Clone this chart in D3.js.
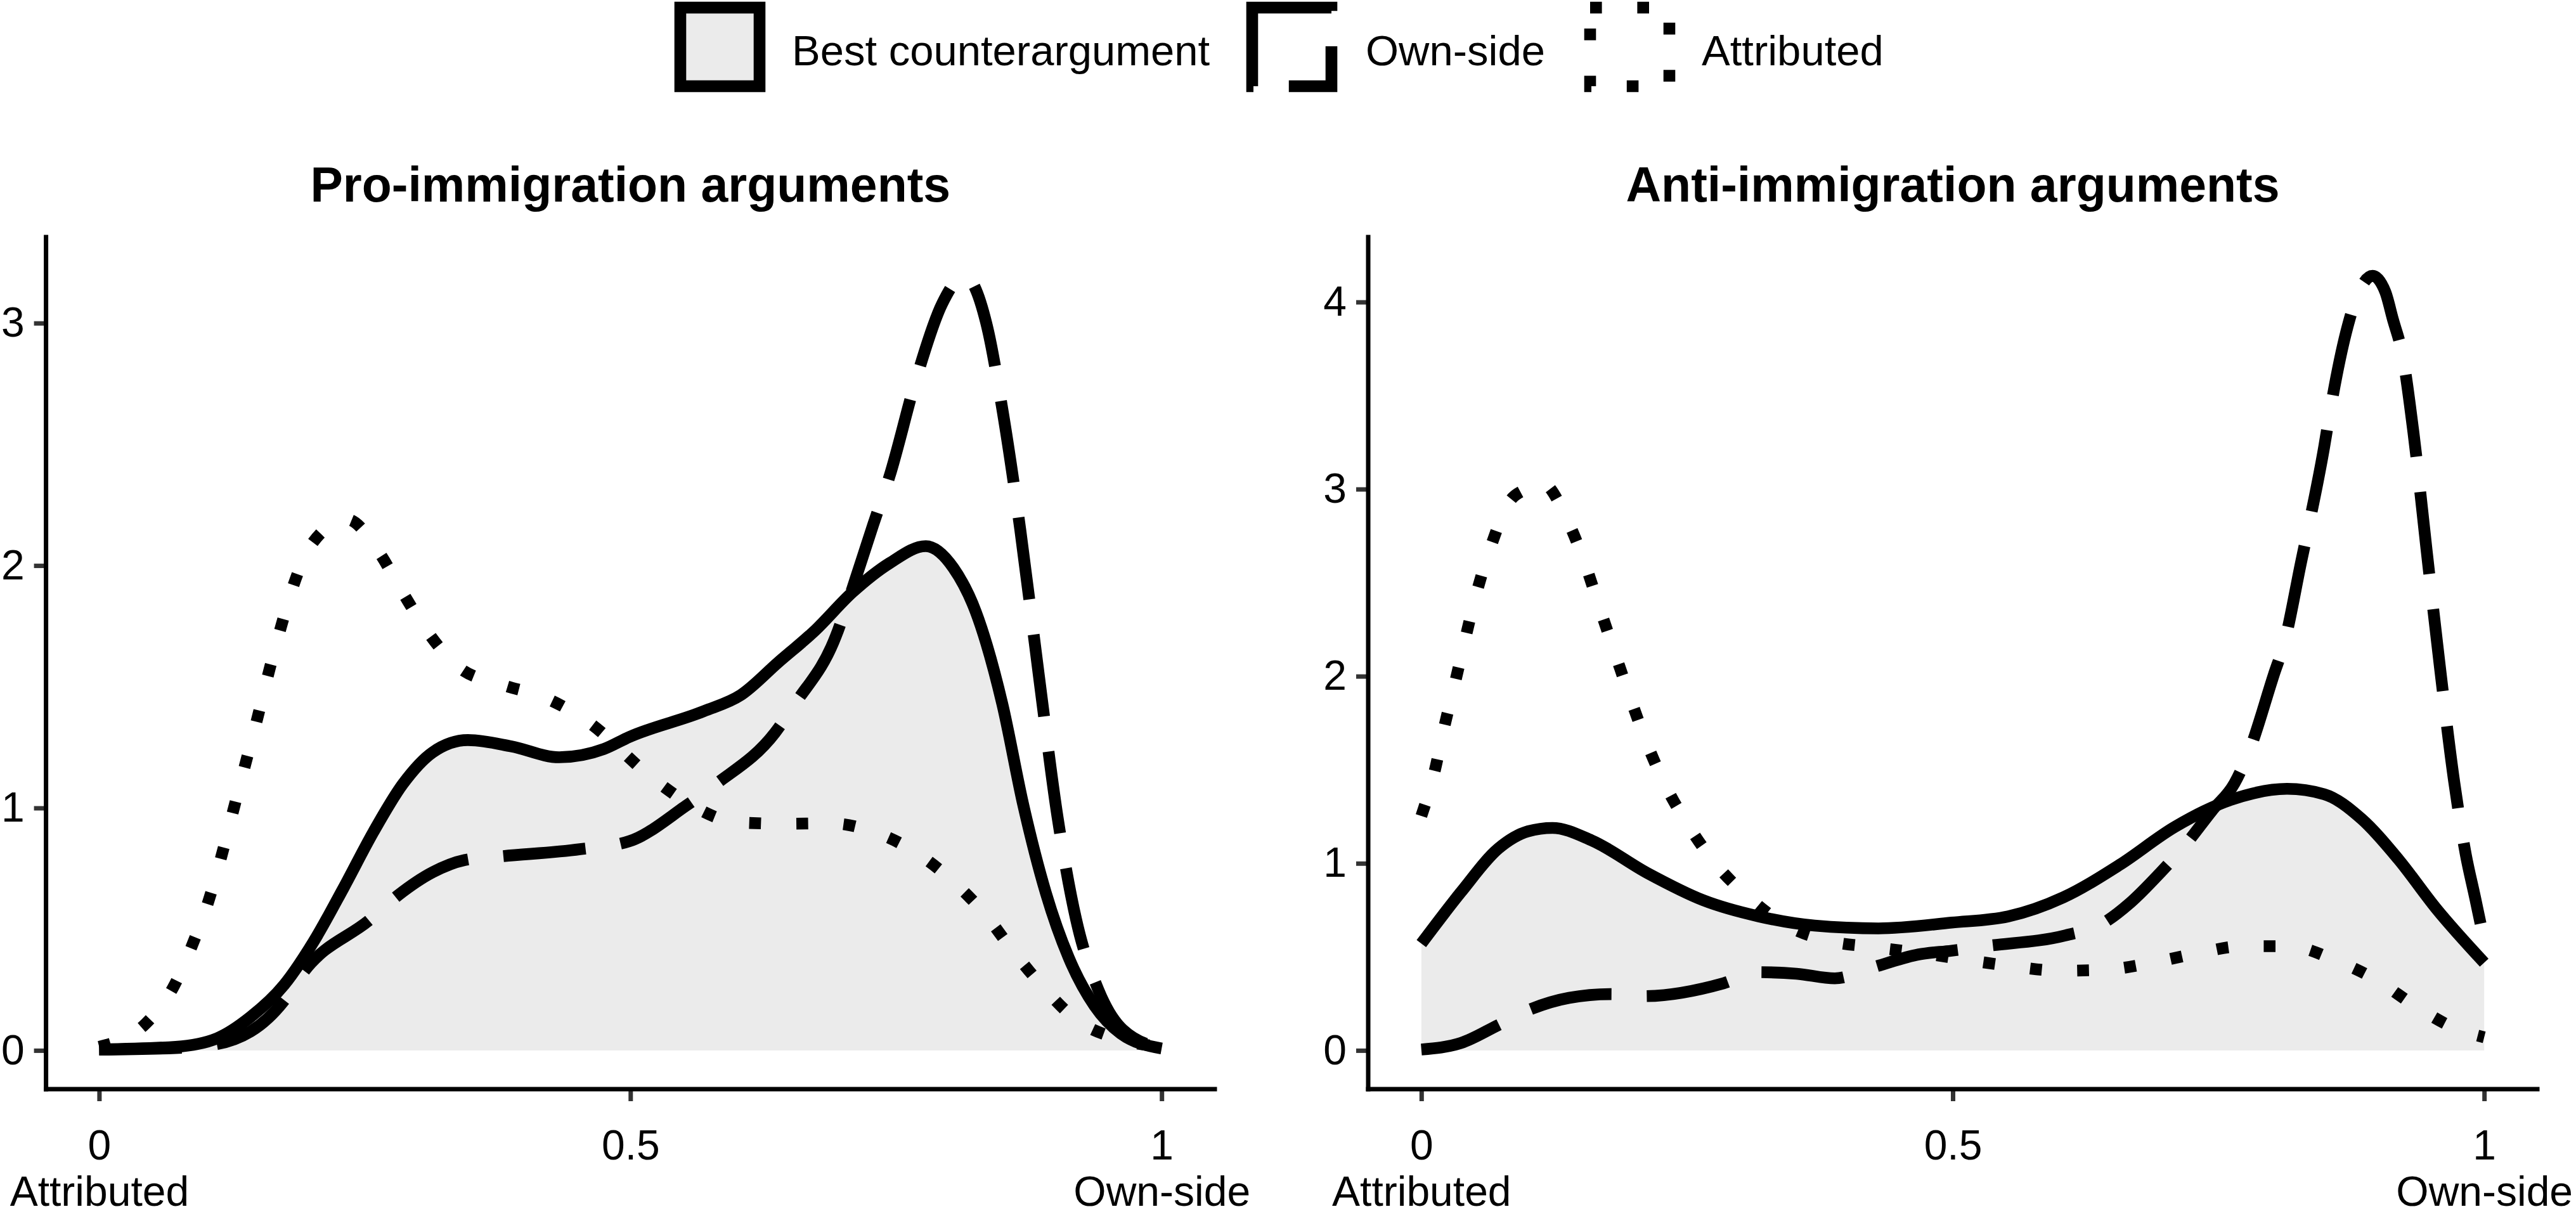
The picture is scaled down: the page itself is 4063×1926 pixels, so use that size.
<!DOCTYPE html>
<html>
<head>
<meta charset="utf-8" />
<title>Argument densities</title>
<style>
html, body {
  margin: 0;
  padding: 0;
  background: #ffffff;
}
svg text {
  font-family: "Liberation Sans", Arial, Helvetica, sans-serif;
}
</style>
</head>
<body>
<script src="https://d3js.org/d3.v7.min.js"></script>
<script>

// ---------------------------------------------------------
// Data, x = position 0..1, y = density

const seriesNames = ["Best counterargument", "Own-side", "Attributed"]
const panelTitles = ["Pro-immigration arguments", "Anti-immigration arguments"]

const xTicks = [0, 0.5, 1]
const xTickLabels = ["0", "0.5", "1"]
const xEndLabels = ["Attributed", "", "Own-side"]
const proYTicks = [0, 1, 2, 3]
const antiYTicks = [0, 1, 2, 3, 4]

const proBest = [[0,0.004],[0.072,0.015],[0.111,0.05],[0.1425,0.138],[0.174,0.27],[0.202,0.45],[0.23,0.67],
  [0.258,0.9],[0.286,1.10],[0.314,1.23],[0.347,1.28],[0.388,1.254],[0.433,1.209],[0.475,1.243],[0.499,1.293],
  [0.569,1.399],[0.604,1.466],[0.639,1.60],[0.674,1.733],[0.709,1.89],[0.744,2.01],[0.778,2.08],[0.804,1.99],
  [0.825,1.81],[0.85,1.43],[0.87,1.008],[0.891,0.65],[0.9125,0.383],[0.937,0.183],[0.9615,0.07],[1.0,0.008]]

const proOwn = [[0,0.003],[0.072,0.01],[0.111,0.026],[0.174,0.205],[0.193,0.327],[0.2547,0.539],[0.2814,0.64],
  [0.314,0.735],[0.344,0.785],[0.377,0.80],[0.4526,0.83],[0.499,0.863],[0.552,1.008],[0.58,1.097],[0.636,1.31],
  [0.655,1.43],[0.6935,1.71],[0.706,1.867],[0.7286,2.17],[0.744,2.37],[0.769,2.77],[0.7934,3.08],[0.8145,3.195],
  [0.8355,2.99],[0.8495,2.66],[0.867,2.146],[0.8845,1.544],[0.902,0.963],[0.9195,0.54],[0.9405,0.249],
  [0.9615,0.094],[1.0,0.008]]

const proAttr = [[0,0.015],[0.0437,0.11],[0.0697,0.26],[0.088,0.439],[0.103,0.617],[0.115,0.80],[0.126,0.986],
  [0.137,1.171],[0.148,1.354],[0.1587,1.544],[0.17,1.729],[0.182,1.907],[0.1996,2.086],[0.2336,2.19],[0.263,2.057],
  [0.2855,1.89],[0.309,1.727],[0.338,1.582],[0.378,1.51],[0.42,1.454],[0.457,1.365],[0.5236,1.113],[0.5587,1.008],
  [0.60,0.941],[0.644,0.935],[0.6876,0.937],[0.73,0.90],[0.7696,0.814],[0.804,0.696],[0.8337,0.562],[0.861,0.405],
  [0.8887,0.26],[0.9195,0.127],[0.958,0.049],[1.0,0.015]]

const antiBest = [[0,0.571],[0.0374,0.847],[0.0725,1.079],[0.1005,1.171],[0.1233,1.189],[0.16,1.123],[0.2126,0.948],
  [0.265,0.803],[0.3177,0.716],[0.37,0.667],[0.43,0.652],[0.499,0.683],[0.552,0.716],[0.604,0.818],[0.657,0.992],
  [0.709,1.195],[0.762,1.34],[0.8145,1.398],[0.8495,1.369],[0.8845,1.238],[0.9195,1.02],[0.9546,0.76],[1.0,0.469]]

const antiOwn = [[0,0.005],[0.0374,0.04],[0.0725,0.136],[0.104,0.223],[0.139,0.281],[0.1776,0.301],[0.209,0.29],
  [0.2844,0.359],[0.316,0.418],[0.353,0.41],[0.389,0.385],[0.426,0.446],[0.468,0.513],[0.499,0.533],[0.5306,0.557],
  [0.606,0.615],[0.639,0.672],[0.667,0.789],[0.695,0.948],[0.718,1.093],[0.744,1.282],[0.765,1.427],[0.779,1.601],
  [0.802,2.007],[0.812,2.18],[0.828,2.617],[0.835,2.806],[0.8495,3.227],[0.8547,3.406],[0.87,3.836],[0.881,4.039],
  [0.895,4.14],[0.907,4.054],[0.914,3.91],[0.923,3.72],[0.9335,3.30],[0.9458,2.675],[0.958,2.066],[0.972,1.427],
  [0.9826,1.05],[0.9914,0.818],[1.0,0.585]]

const antiAttr = [[0,1.253],[0.0122,1.485],[0.0217,1.732],[0.032,1.973],[0.042,2.217],[0.0525,2.457],[0.0655,2.695],
  [0.0823,2.928],[0.098,3.0],[0.112,3.04],[0.139,2.814],[0.1548,2.588],[0.1688,2.347],[0.183,2.109],[0.197,1.877],
  [0.2126,1.636],[0.23,1.413],[0.251,1.204],[0.2767,0.998],[0.307,0.823],[0.344,0.667],[0.3836,0.585],[0.427,0.551],
  [0.472,0.519],[0.513,0.484],[0.557,0.449],[0.60,0.426],[0.6445,0.432],[0.6876,0.469],[0.73,0.519],[0.773,0.557],
  [0.817,0.557],[0.859,0.484],[0.8985,0.377],[0.935,0.238],[0.974,0.115],[1.0,0.07]]

// ---------------------------------------------------------
// Layout and styles

const W = 4063
const H = 1926
const lw = 18.6
const dashes = ["none", [7 * lw, 3 * lw].join(" "), [lw, 3 * lw].join(" ")]
const fillGrey = "#ebebeb"

const panelTop = 374
const panelBottom = 1718
const panels = [
  { title: panelTitles[0], left: 72.6, right: 1916, yTicks: proYTicks, series: [proBest, proOwn, proAttr] },
  { title: panelTitles[1], left: 2158, right: 4002, yTicks: antiYTicks, series: [antiBest, antiOwn, antiAttr] }
]

const svg = d3.select('body').append('svg')
  .attr('width', W)
  .attr('height', H)
  .attr('viewBox', `0 0 ${W} ${H}`)

// ---------------------------------------------------------
// Legend

const legendKeys = [1073, 1975, 2508]
const legendText = [1249, 2154, 2684]

seriesNames.forEach((name, i) => {
  svg.append('rect')
    .attr('x', legendKeys[i])
    .attr('y', 12)
    .attr('width', 125)
    .attr('height', 124)
    .attr('fill', i === 0 ? fillGrey : 'none')
    .attr('stroke', '#000')
    .attr('stroke-width', lw)
    .attr('stroke-dasharray', dashes[i])
  svg.append('text')
    .attr('x', legendText[i])
    .attr('y', 103)
    .attr('font-size', 67)
    .attr('fill', '#000')
    .text(name)
})

// ---------------------------------------------------------
// Panels

panels.forEach(p => {
  const g = svg.append('g')

  const yMax = d3.max(p.series.flat(), d => d[1])
  const pad = yMax * 0.05

  const x = d3.scaleLinear().domain([-0.05, 1.05]).range([p.left, p.right])
  const y = d3.scaleLinear().domain([-pad, yMax + pad]).range([panelBottom, panelTop])

  const area = d3.area()
    .x(d => x(d[0]))
    .y0(y(0))
    .y1(d => y(d[1]))
    .curve(d3.curveMonotoneX)

  const line = d3.line()
    .x(d => x(d[0]))
    .y(d => y(d[1]))
    .curve(d3.curveMonotoneX)

  // grey fill only under the best counterargument
  g.append('path')
    .datum(p.series[0])
    .attr('d', area)
    .attr('fill', fillGrey)

  p.series.forEach((s, i) => {
    g.append('path')
      .datum(s)
      .attr('d', line)
      .attr('fill', 'none')
      .attr('stroke', '#000')
      .attr('stroke-width', lw)
      .attr('stroke-linecap', 'butt')
      .attr('stroke-linejoin', 'round')
      .attr('stroke-dasharray', dashes[i])
  })

  // axes
  const xAxis = g.append('g')
    .attr('transform', `translate(0,${panelBottom})`)
    .call(d3.axisBottom(x).tickValues(xTicks).tickSize(19).tickPadding(45)
      .tickFormat((d, i) => xTickLabels[i]))
  const yAxis = g.append('g')
    .attr('transform', `translate(${p.left},0)`)
    .call(d3.axisLeft(y).tickValues(p.yTicks).tickSize(19).tickPadding(15).tickFormat(d3.format('d')))

  ;[xAxis, yAxis].forEach(a => {
    a.select('.domain').remove()
    a.attr('font-family', null).attr('font-size', null)
    a.selectAll('.tick line').attr('stroke', '#333333').attr('stroke-width', 7)
    a.selectAll('.tick text').attr('fill', '#000').attr('font-size', 66)
  })

  // second line under the end ticks
  xAxis.selectAll('.tick text').each(function(d, i) {
    if (!xEndLabels[i]) return
    d3.select(this).append('tspan')
      .attr('x', 0)
      .attr('dy', 73)
      .text(xEndLabels[i])
  })

  g.append('line')
    .attr('x1', p.left).attr('x2', p.left)
    .attr('y1', panelTop).attr('y2', panelBottom)
    .attr('stroke', '#000').attr('stroke-width', 7).attr('stroke-linecap', 'square')
  g.append('line')
    .attr('x1', p.left).attr('x2', p.right)
    .attr('y1', panelBottom).attr('y2', panelBottom)
    .attr('stroke', '#000').attr('stroke-width', 7).attr('stroke-linecap', 'square')

  g.append('text')
    .attr('x', (p.left + p.right) / 2)
    .attr('y', 318)
    .attr('text-anchor', 'middle')
    .attr('font-size', 77)
    .attr('font-weight', 'bold')
    .attr('fill', '#000')
    .text(p.title)
})

</script>
</body>
</html>
